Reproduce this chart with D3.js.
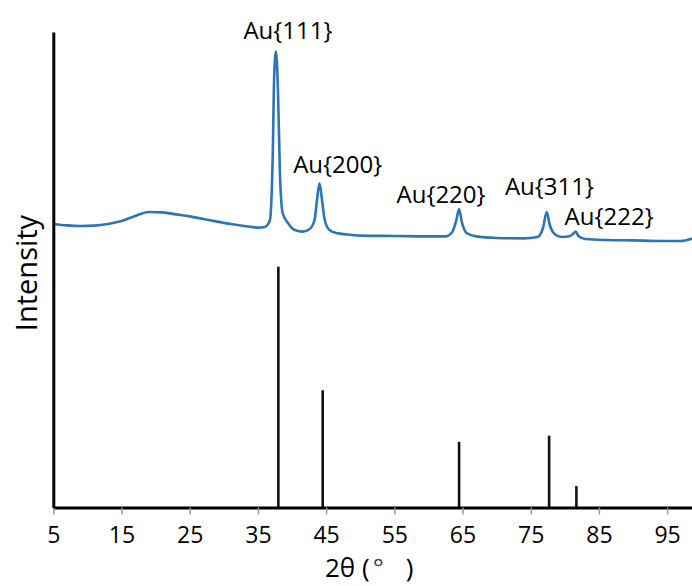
<!DOCTYPE html>
<html>
<head>
<meta charset="utf-8">
<script src="https://cdn.jsdelivr.net/npm/d3@7"></script>
<style>
  html, body { margin: 0; padding: 0; background: #fff; }
  svg { display: block; font-family: "Open Sans", "Noto Sans", sans-serif; }
</style>
</head>
<body>
<div class="js-chart"></div>
<script>
(function() {
  'use strict';

  /* ------------------------------------------------------------ *\
      Data
  \* ------------------------------------------------------------ */

  // measured pattern (2theta, intensity in arbitrary units)
  var patternAngle = [
    5, 7, 9, 11, 13, 15, 17, 19, 21, 23, 25, 27, 29, 31, 33, 35, 36,
    36.77, 37.17, 37.4, 37.65, 37.94, 38.23, 38.63, 39.41, 40.4, 41.6,
    42.6, 43.3, 43.7, 44.03, 44.4, 44.8, 45.5, 46.5, 48, 50, 55, 60, 62.5,
    63.5, 64.1, 64.5, 64.9, 65.6, 67, 70, 74, 76, 76.8, 77.35, 77.8, 78.5,
    79.5, 80.8, 81.2, 81.6, 82, 83, 86, 90, 94, 97, 98.7
  ];
  var patternIntensity = [
    13, 12.3, 12, 12.2, 13, 14.5, 17, 19, 18.8, 17.8, 16.8, 15.5, 14.2, 13, 12, 11.2, 11.5,
    15, 46.6, 88.5, 99.2, 80, 38.5, 18.5, 13.5, 10, 9.2,
    10.5, 15, 26, 33.4, 25, 15, 10, 8.5, 7.8, 7.2, 7, 6.8, 6.8,
    9, 15, 20.5, 14, 8.5, 6.8, 6, 5.8, 6.5, 11, 19, 12.5, 8,
    6.5, 7, 8, 9.2, 7, 5.5, 5, 4.8, 4.5, 4.5, 5.8
  ];

  // reference lines for gold
  var refAngle = [38.0, 44.5, 64.5, 77.7, 81.7];
  var refIntensity = [100, 48.7, 27.3, 29.8, 8.9];

  // peak labels
  var peakLabels = ['Au{111}', 'Au{200}', 'Au{220}', 'Au{311}', 'Au{222}'];
  var peakLabelAngle = [39.4, 46.7, 61.85, 77.75, 86.5];
  var peakLabelLevel = [105.4, 38.6, 23.4, 27.5, 12.5];

  var xTicks = [5, 15, 25, 35, 45, 55, 65, 75, 85, 95];

  /* ------------------------------------------------------------ *\
      Layout
  \* ------------------------------------------------------------ */

  var width = 692;
  var height = 586;
  var plotLeft = 53.3;
  var plotTop = 32;
  var plotBottom = 507.5;
  var blue = '#2e75b6';

  var svg = d3.select('.js-chart')
    .append('svg')
    .attr('width', width)
    .attr('height', height)
    .attr('viewBox', '0 0 ' + width + ' ' + height);

  var x = d3.scaleLinear()
    .domain([5, 100])
    .range([plotLeft, plotLeft + 95 * 6.82]);

  // the measured curve sits in the upper half
  var yPattern = d3.scaleLinear()
    .domain([0, 100])
    .range([250, 50]);

  // reference sticks sit on the axis
  var yRef = d3.scaleLinear()
    .domain([0, 100])
    .range([plotBottom, 266.7]);

  var yFrame = d3.scaleLinear()
    .domain([0, 1])
    .range([plotBottom, plotTop]);

  /* ------------------------------------------------------------ *\
      Reference sticks
  \* ------------------------------------------------------------ */

  svg.append('g')
    .selectAll('line')
    .data(refAngle)
    .join('line')
    .attr('x1', function(d) { return x(d); })
    .attr('x2', function(d) { return x(d); })
    .attr('y1', yRef(0))
    .attr('y2', function(d, i) { return yRef(refIntensity[i]); })
    .attr('stroke', '#111')
    .attr('stroke-width', 2.6);

  /* ------------------------------------------------------------ *\
      Measured pattern
  \* ------------------------------------------------------------ */

  var line = d3.line()
    .x(function(d) { return x(d); })
    .y(function(d, i) { return yPattern(patternIntensity[i]); })
    .curve(d3.curveMonotoneX);

  svg.append('path')
    .attr('d', line(patternAngle))
    .attr('fill', 'none')
    .attr('stroke', blue)
    .attr('stroke-width', 2.6)
    .attr('stroke-linejoin', 'round');

  /* ------------------------------------------------------------ *\
      Axes
  \* ------------------------------------------------------------ */

  var xAxis = svg.append('g')
    .attr('transform', 'translate(0,' + plotBottom + ')')
    .call(d3.axisBottom(x).tickValues(xTicks).tickSize(7).tickSizeOuter(0).tickFormat(d3.format('d')));

  xAxis.select('.domain')
    .attr('stroke', '#000')
    .attr('stroke-width', 3);

  xAxis.selectAll('.tick line')
    .attr('stroke', '#999')
    .attr('stroke-width', 1.5);

  xAxis.selectAll('.tick text')
    .attr('y', 35)
    .attr('dy', 0)
    .attr('fill', '#000')
    .style('font-size', '23px')
    .style('font-family', '"Open Sans", sans-serif');

  var yAxis = svg.append('g')
    .attr('transform', 'translate(' + plotLeft + ',0)')
    .call(d3.axisLeft(yFrame).tickValues([]).tickSizeOuter(0));

  yAxis.select('.domain')
    .attr('stroke', '#000')
    .attr('stroke-width', 3);

  /* ------------------------------------------------------------ *\
      Peak labels
  \* ------------------------------------------------------------ */

  svg.append('g')
    .selectAll('text')
    .data(peakLabels)
    .join('text')
    .attr('x', function(d, i) { return x(peakLabelAngle[i]); })
    .attr('y', function(d, i) { return yPattern(peakLabelLevel[i]); })
    .attr('text-anchor', 'middle')
    .attr('font-size', 24)
    .attr('fill', '#000')
    .text(function(d) { return d; });

  /* ------------------------------------------------------------ *\
      Axis titles
  \* ------------------------------------------------------------ */

  var xTitle = svg.append('text')
    .attr('x', 325)
    .attr('y', 577)
    .attr('font-size', 26)
    .attr('fill', '#000');

  xTitle.append('tspan').text('2\u03b8 (');
  xTitle.append('tspan').attr('dx', 3).attr('fill', '#444').text('\u00b0');
  xTitle.append('tspan').attr('dx', 22).text(')');

  svg.append('text')
    .attr('transform', 'translate(37,273) rotate(-90)')
    .attr('text-anchor', 'middle')
    .attr('font-size', 29)
    .attr('fill', '#000')
    .text('Intensity');
})();
</script>
</body>
</html>
